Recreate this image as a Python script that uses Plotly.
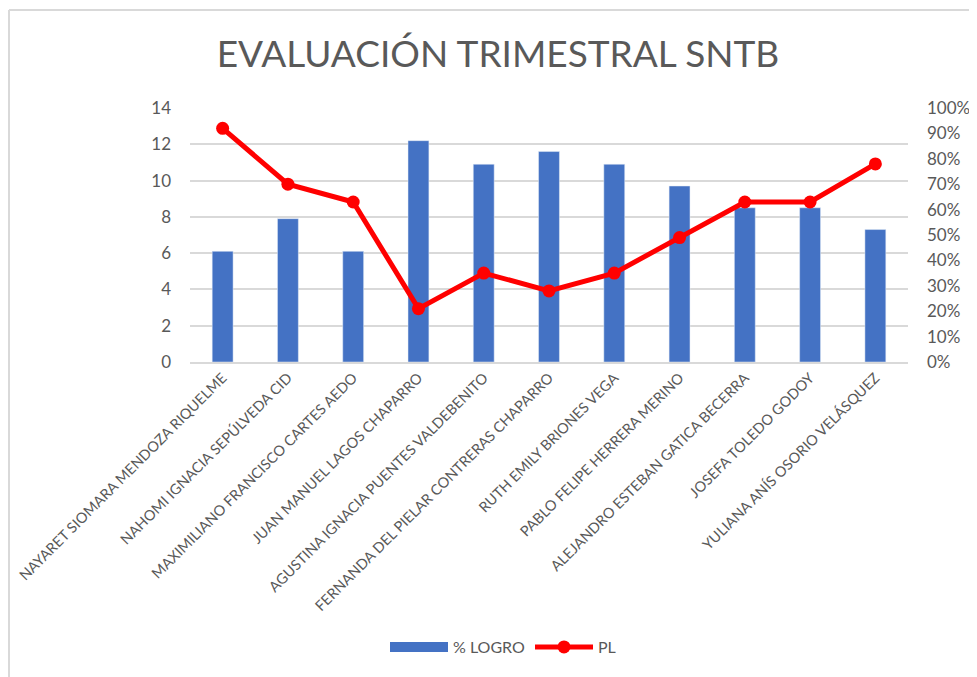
import plotly.graph_objects as go

categories = [
    "NAYARET SIOMARA MENDOZA RIQUELME",
    "NAHOMI IGNACIA SEPÚLVEDA CID",
    "MAXIMILIANO FRANCISCO CARTES AEDO",
    "JUAN MANUEL LAGOS CHAPARRO",
    "AGUSTINA IGNACIA PUENTES VALDEBENITO",
    "FERNANDA DEL PIELAR CONTRERAS CHAPARRO",
    "RUTH EMILY BRIONES VEGA",
    "PABLO FELIPE HERRERA MERINO",
    "ALEJANDRO ESTEBAN GATICA BECERRA",
    "JOSEFA TOLEDO GODOY",
    "YULIANA ANÍS OSORIO VELÁSQUEZ",
]
logro_values = [6.1, 7.9, 6.1, 12.2, 10.9, 11.6, 10.9, 9.7, 8.5, 8.5, 7.3]
pl_values = [0.92, 0.70, 0.63, 0.21, 0.35, 0.28, 0.35, 0.49, 0.63, 0.63, 0.78]

left_ticks = [0, 2, 4, 6, 8, 10, 12, 14]
right_ticks = [0, 0.1, 0.2, 0.3, 0.4, 0.5, 0.6, 0.7, 0.8, 0.9, 1.0]

FONT = "Lato, 'Open Sans', sans-serif"
GRAY = "#595959"
BLUE = "#4472C4"

# page body has an 8px margin; figure pixel coords = page coords - 8
OFF = 8
W, H = 977 - OFF, 677 - OFF
L, R, T, B = 190 - OFF, 908 - OFF, 108 - OFF, 362 - OFF

def px_x(p):
    return (p - OFF - L) / (R - L)

def px_y(p):
    return (B - (p - OFF)) / (B - T)

fig = go.Figure()
fig.add_trace(go.Bar(
    x=categories, y=logro_values, name="% LOGRO",
    marker=dict(color=BLUE), yaxis="y",
    legendgroup="logro", showlegend=False,
))
# legend entry for the bars, drawn as a wide block like the original
fig.add_trace(go.Scatter(
    x=[categories[0]], y=[None], name="% LOGRO", mode="lines",
    line=dict(color=BLUE, width=12), legendgroup="logro",
    hoverinfo="skip", yaxis="y",
))
fig.add_trace(go.Scatter(
    x=categories, y=pl_values, name="PL", mode="lines+markers",
    line=dict(color="#FF0000", width=5),
    marker=dict(color="#FF0000", size=13),
    yaxis="y2",
))

fig.update_layout(
    width=W, height=H,
    margin=dict(l=L, r=W - R, t=T, b=H - B, autoexpand=False),
    paper_bgcolor="white", plot_bgcolor="white",
    font=dict(family=FONT, color=GRAY, size=15),
    title=dict(text="EVALUACIÓN TRIMESTRAL SNTB", x=(498 - OFF) / W,
               xanchor="center", y=1 - (54 - OFF) / H, yanchor="middle",
               font=dict(family=FONT, size=37, color=GRAY)),
    bargap=0.68,
    showlegend=True,
    legend=dict(orientation="h", x=px_x(503), xanchor="center", y=px_y(647),
                yanchor="middle", font=dict(size=16, color=GRAY),
                itemwidth=58, traceorder="normal", tracegroupgap=0),
    xaxis=dict(tickangle=-45, tickfont=dict(size=14.5, color=GRAY),
               range=[-0.5, len(categories) - 0.5],
               showgrid=False, showline=True, linecolor="#d9d9d9", linewidth=1.5,
               ticks="", automargin=False),
    yaxis=dict(range=[0, 14], tickvals=left_ticks, showgrid=True,
               gridcolor="#d9d9d9", gridwidth=1.5, zeroline=False,
               tickfont=dict(size=17, color=GRAY), ticklabelstandoff=18,
               automargin=False),
    yaxis2=dict(range=[0, 1], tickvals=right_ticks, tickformat=".0%",
                overlaying="y", side="right", showgrid=False, zeroline=False,
                tickfont=dict(size=17, color=GRAY), ticklabelstandoff=18,
                automargin=False),
    shapes=[
        dict(type="line", xref="paper", yref="paper",
             x0=px_x(9), x1=px_x(985), y0=px_y(10), y1=px_y(10),
             line=dict(color="#d9d9d9", width=2)),
        dict(type="line", xref="paper", yref="paper",
             x0=px_x(9), x1=px_x(9), y0=px_y(10), y1=px_y(685),
             line=dict(color="#d9d9d9", width=2)),
    ],
)

fig.write_html("out.html")
